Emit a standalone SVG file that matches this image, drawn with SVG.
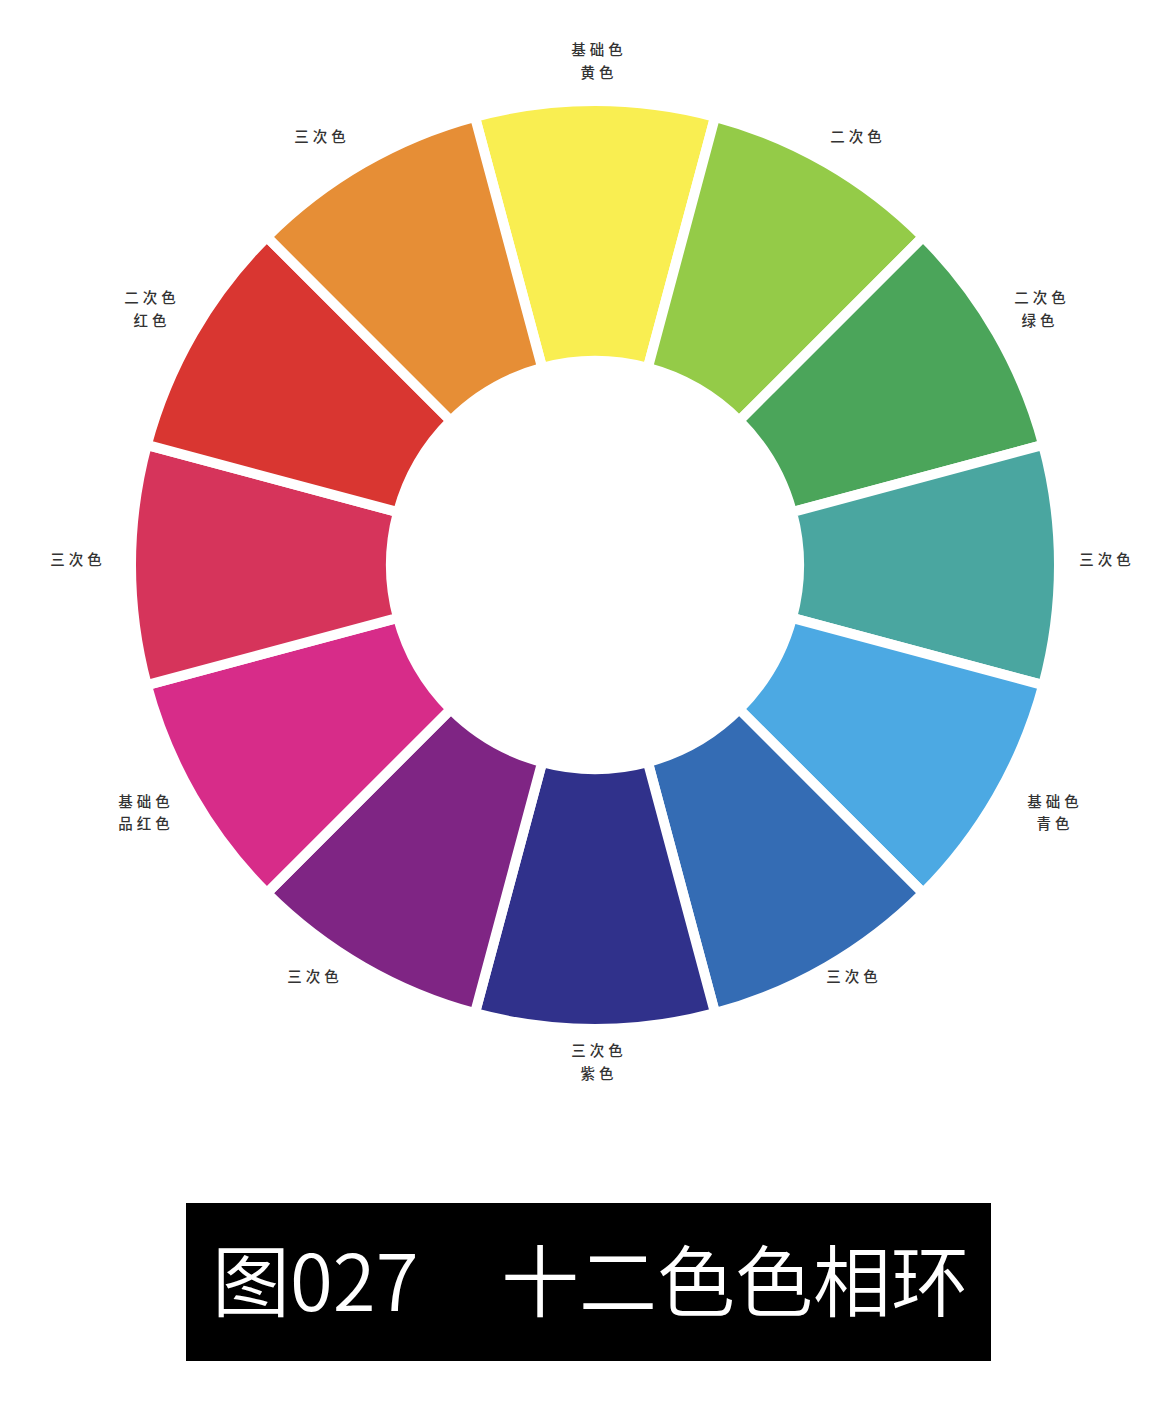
<svg xmlns="http://www.w3.org/2000/svg" width="1170" height="1422" viewBox="0 0 1170 1422">
<style>
.seg{stroke:#fff;stroke-width:10;stroke-linejoin:miter}
.lbl{font-family:"Noto Sans CJK SC","Noto Sans",sans-serif;font-size:14.5px;font-weight:500;fill:#333;letter-spacing:4px;text-anchor:middle}
.title{font-family:"Noto Sans CJK SC","Noto Sans",sans-serif;font-size:78px;font-weight:350;fill:#fff}
</style>
<rect width="1170" height="1422" fill="#fff"/>
<g id="wheel">
<path id="s-yellow" class="seg" fill="#F9EE51" d="M474.91,116.81 A464,464 0 0 1 715.09,116.81 L647.80,367.95 A204,204 0 0 0 542.20,367.95 Z"/>
<path id="s-yellowgreen" class="seg" fill="#94CB48" d="M715.09,116.81 A464,464 0 0 1 923.10,236.90 L739.25,420.75 A204,204 0 0 0 647.80,367.95 Z"/>
<path id="s-green" class="seg" fill="#4BA55A" d="M923.10,236.90 A464,464 0 0 1 1043.19,444.91 L792.05,512.20 A204,204 0 0 0 739.25,420.75 Z"/>
<path id="s-teal" class="seg" fill="#4AA6A0" d="M1043.19,444.91 A464,464 0 0 1 1043.19,685.09 L792.05,617.80 A204,204 0 0 0 792.05,512.20 Z"/>
<path id="s-cyan" class="seg" fill="#4CA9E3" d="M1043.19,685.09 A464,464 0 0 1 923.10,893.10 L739.25,709.25 A204,204 0 0 0 792.05,617.80 Z"/>
<path id="s-blue" class="seg" fill="#346CB4" d="M923.10,893.10 A464,464 0 0 1 715.09,1013.19 L647.80,762.05 A204,204 0 0 0 739.25,709.25 Z"/>
<path id="s-indigo" class="seg" fill="#30318B" d="M715.09,1013.19 A464,464 0 0 1 474.91,1013.19 L542.20,762.05 A204,204 0 0 0 647.80,762.05 Z"/>
<path id="s-purple" class="seg" fill="#7F2584" d="M474.91,1013.19 A464,464 0 0 1 266.90,893.10 L450.75,709.25 A204,204 0 0 0 542.20,762.05 Z"/>
<path id="s-magenta" class="seg" fill="#D72C89" d="M266.90,893.10 A464,464 0 0 1 146.81,685.09 L397.95,617.80 A204,204 0 0 0 450.75,709.25 Z"/>
<path id="s-crimson" class="seg" fill="#D6345B" d="M146.81,685.09 A464,464 0 0 1 146.81,444.91 L397.95,512.20 A204,204 0 0 0 397.95,617.80 Z"/>
<path id="s-red" class="seg" fill="#D93631" d="M146.81,444.91 A464,464 0 0 1 266.90,236.90 L450.75,420.75 A204,204 0 0 0 397.95,512.20 Z"/>
<path id="s-orange" class="seg" fill="#E68E36" d="M266.90,236.90 A464,464 0 0 1 474.91,116.81 L542.20,367.95 A204,204 0 0 0 450.75,420.75 Z"/>
</g>
<g id="labels">
<text class="lbl" x="599" y="55">基础色</text>
<text class="lbl" x="599" y="78">黄色</text>
<text class="lbl" x="858" y="142">二次色</text>
<text class="lbl" x="1042" y="303">二次色</text>
<text class="lbl" x="1040" y="326">绿色</text>
<text class="lbl" x="1107" y="565">三次色</text>
<text class="lbl" x="1055" y="807">基础色</text>
<text class="lbl" x="1055" y="829">青色</text>
<text class="lbl" x="854" y="982">三次色</text>
<text class="lbl" x="599" y="1056">三次色</text>
<text class="lbl" x="599" y="1079">紫色</text>
<text class="lbl" x="315" y="982">三次色</text>
<text class="lbl" x="146" y="807">基础色</text>
<text class="lbl" x="146" y="829">品红色</text>
<text class="lbl" x="78" y="565">三次色</text>
<text class="lbl" x="152" y="303">二次色</text>
<text class="lbl" x="152" y="326">红色</text>
<text class="lbl" x="322" y="142">三次色</text>
</g>
<g id="caption">
<rect x="186" y="1203" width="805" height="158" fill="#000"/>
<text class="title" x="212" y="1311">图027</text>
<text class="title" x="501" y="1311">十二色色相环</text>
</g>
</svg>
